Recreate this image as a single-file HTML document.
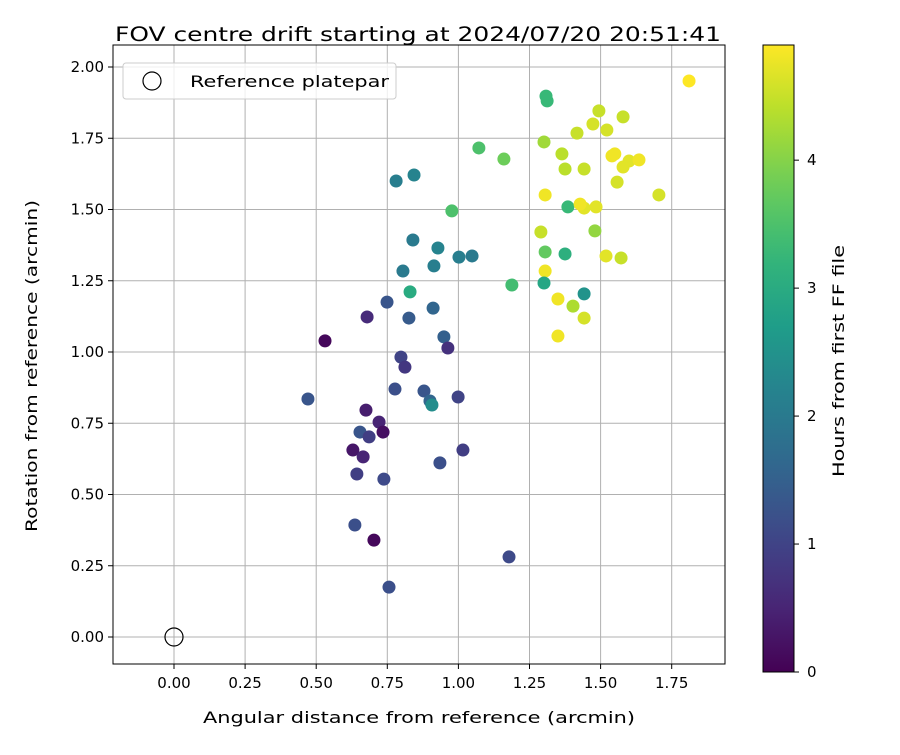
<!DOCTYPE html>
<html><head><meta charset="utf-8"><style>
body{margin:0;background:#fff;font-family:"Liberation Sans","DejaVu Sans",sans-serif}
svg text{font-family:"DejaVu Sans","Liberation Sans",sans-serif}
</style></head><body>
<svg id="c" width="900" height="750" xmlns="http://www.w3.org/2000/svg"></svg>
<script>
const xs=[1.811,1.308,1.312,1.072,1.160,1.301,1.494,1.579,1.473,1.417,1.522,1.364,1.375,1.442,1.540,1.550,1.600,1.635,1.579,1.558,1.705,1.305,1.385,1.442,1.484,1.428,0.781,0.844,0.977,0.840,0.928,1.002,1.048,0.914,0.805,1.290,1.305,1.375,1.480,1.519,1.572,1.305,1.188,1.301,0.830,1.350,1.403,1.442,1.442,1.350,0.749,0.911,0.826,0.679,0.949,0.531,0.963,0.798,0.812,0.777,0.879,0.471,0.675,0.900,0.907,0.999,0.721,0.654,0.735,0.686,0.629,0.665,1.016,0.935,0.643,0.738,0.636,0.703,1.178,0.756];
const ys=[1.951,1.898,1.881,1.716,1.677,1.737,1.846,1.825,1.800,1.768,1.779,1.695,1.642,1.642,1.688,1.695,1.670,1.674,1.649,1.596,1.551,1.551,1.509,1.505,1.509,1.519,1.600,1.621,1.495,1.393,1.365,1.333,1.337,1.302,1.284,1.421,1.351,1.344,1.425,1.337,1.330,1.284,1.235,1.242,1.211,1.186,1.161,1.204,1.119,1.056,1.175,1.154,1.119,1.123,1.053,1.039,1.014,0.982,0.947,0.870,0.863,0.835,0.796,0.828,0.814,0.842,0.754,0.719,0.719,0.702,0.656,0.632,0.656,0.611,0.572,0.554,0.393,0.340,0.281,0.175];
const hours=[4.9,3.3,3.3,3.5,3.8,4.2,4.5,4.5,4.6,4.5,4.6,4.4,4.4,4.5,4.8,4.8,4.7,4.8,4.7,4.6,4.6,4.8,3.3,4.7,4.7,4.8,2.1,2.2,3.5,2.0,2.2,2.1,2.0,2.1,2.0,4.5,3.7,3.1,4.1,4.7,4.5,4.8,3.4,2.9,3.0,4.8,4.3,2.5,4.6,4.8,1.3,1.6,1.4,0.6,1.5,0.1,0.7,1.0,0.8,1.2,1.3,1.3,0.4,1.6,2.4,1.0,0.5,1.3,0.2,0.9,0.3,0.5,0.9,1.2,0.9,1.1,1.2,0.1,1.1,1.2];
const xTicks=[0,0.25,0.5,0.75,1,1.25,1.5,1.75];
const yTicks=[0,0.25,0.5,0.75,1,1.25,1.5,1.75,2];
const cTicks=[0,1,2,3,4];
const cMax=4.9;
const L=113,R=725,T=45,B=664;
const X=v=>174+v*284.4, Y=v=>637-v*285;
const CT=45,CB=672,CL=763,CR=794;
const C=h=>CB-h*(CB-CT)/cMax;
const vir=[[68,1,84],[72,40,120],[62,73,137],[49,104,142],[38,130,142],[31,158,137],[53,183,121],[109,205,89],[180,222,44],[253,231,37]];
function col(t){t=Math.max(0,Math.min(1,t));const p=t*9,i=Math.min(8,Math.floor(p)),f=p-i;const a=vir[i],b=vir[i+1];return `rgb(${a.map((v,k)=>Math.round(v+(b[k]-v)*f)).join(',')})`;}
const s=document.getElementById('c');const NS='http://www.w3.org/2000/svg';
function el(t,a,p){const e=document.createElementNS(NS,t);for(const k in a)e.setAttribute(k,a[k]);(p||s).appendChild(e);return e;}
function tx(x,y,str,a){const e=el('text',Object.assign({x:x,y:y,'font-size':15,fill:'#000'},a||{}));e.textContent=str;return e;}
const g=el('g',{});


xTicks.forEach(v=>{el('line',{x1:X(v),x2:X(v),y1:T,y2:B,stroke:'#b0b0b0','stroke-width':1},g);el('line',{x1:X(v),x2:X(v),y1:B,y2:B+5,stroke:'#000'});const t=tx(X(v),B+24,v.toFixed(2),{'text-anchor':'middle'});});
yTicks.forEach(v=>{el('line',{x1:L,x2:R,y1:Y(v),y2:Y(v),stroke:'#b0b0b0','stroke-width':1},g);el('line',{x1:L-5,x2:L,y1:Y(v),y2:Y(v),stroke:'#000'});const t=tx(L-9,Y(v)+5,v.toFixed(2),{'text-anchor':'end'});});
xs.forEach((x,i)=>{const c=el('circle',{cx:X(x),cy:Y(ys[i]),r:6.5,fill:col(hours[i]/cMax)});});
const ref=el('circle',{cx:X(0),cy:Y(0),r:9,fill:'none',stroke:'#000','stroke-width':1.2});

const fr=el('rect',{x:L,y:T,width:R-L,height:B-T,fill:'none',stroke:'#000','stroke-width':1});

const lg=el('g',{});
el('rect',{x:123,y:63,width:273,height:36,rx:3,fill:'#fff','fill-opacity':0.8,stroke:'#ccc'},lg);
el('circle',{cx:152,cy:81,r:9,fill:'none',stroke:'#000','stroke-width':1.2},lg);
const lt=tx(190,87,'Reference platepar',{'font-size':16,textLength:199,lengthAdjust:'spacingAndGlyphs'});lg.appendChild(lt);
const ti=tx(418,41,'FOV centre drift starting at 2024/07/20 20:51:41',{'font-size':19.5,'text-anchor':'middle',textLength:606,lengthAdjust:'spacingAndGlyphs'});
const xl=tx(419,723,'Angular distance from reference (arcmin)',{'font-size':16,'text-anchor':'middle',textLength:432,lengthAdjust:'spacingAndGlyphs'});
const yl=tx(0,0,'Rotation from reference (arcmin)',{'font-size':16,'text-anchor':'middle',textLength:332,lengthAdjust:'spacingAndGlyphs',transform:'translate(37,366) rotate(-90)'});
const df=el('defs',{});const lgd=el('linearGradient',{id:'vg',x1:0,y1:1,x2:0,y2:0},df);
for(let i=0;i<=20;i++)el('stop',{offset:i/20,'stop-color':col(i/20)},lgd);
const cb=el('rect',{x:CL,y:CT,width:CR-CL,height:CB-CT,fill:'url(#vg)',stroke:'#000','stroke-width':1});

cTicks.forEach(v=>{el('line',{x1:CR,x2:CR+5,y1:C(v),y2:C(v),stroke:'#000'});const t=tx(CR+13,C(v)+5,String(v));});
const cl=tx(0,0,'Hours from first FF file',{'font-size':16,'text-anchor':'middle',textLength:232,lengthAdjust:'spacingAndGlyphs',transform:'translate(844,361) rotate(-90)'});
</script>
</body></html>
